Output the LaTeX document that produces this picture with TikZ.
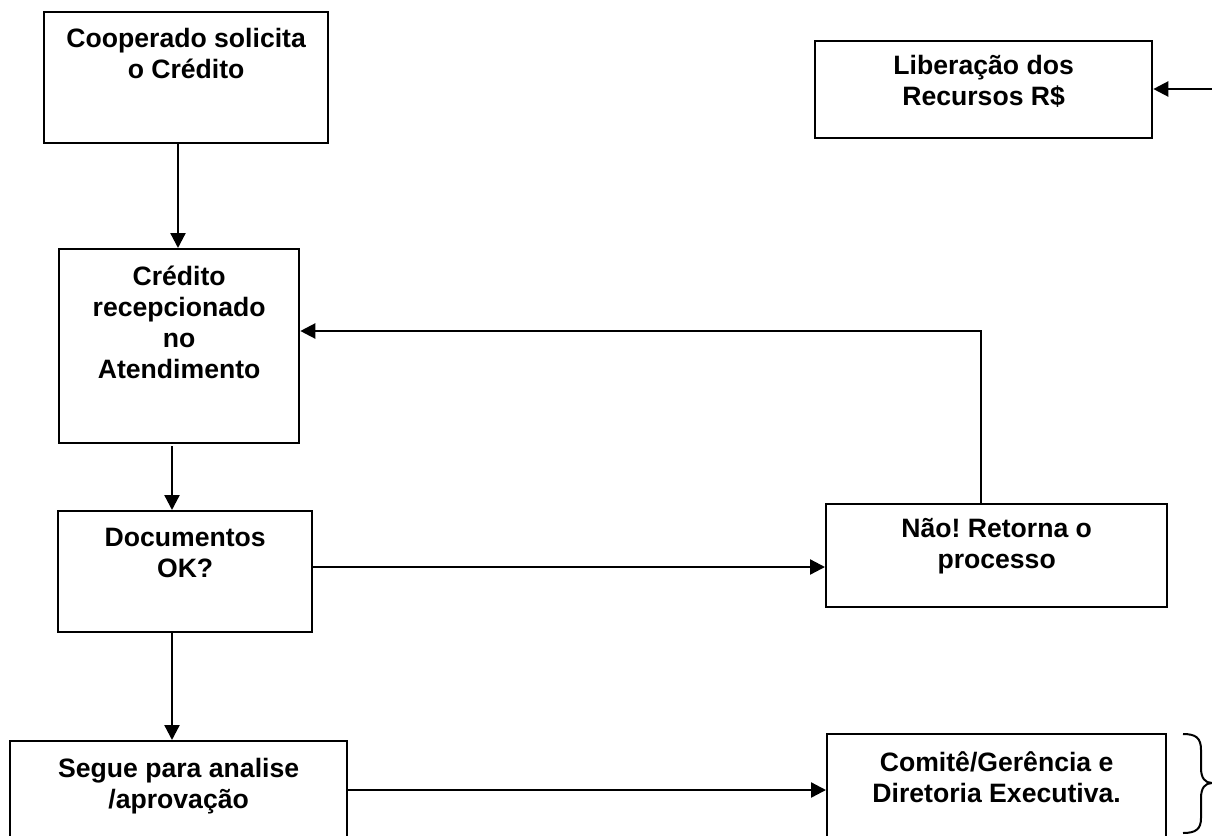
\documentclass[tikz,border=0pt]{standalone}
\usepackage{fontspec}
\setmainfont{Liberation Sans}
\usetikzlibrary{arrows.meta}
\frenchspacing
\begin{document}
\begin{tikzpicture}[x=1pt,y=-1pt,
  box/.style={draw, line width=2.3pt, rectangle, inner sep=0pt, anchor=north west},
  txt/.style={align=center, inner sep=0pt, anchor=north, font=\fontsize{26.6}{31}\selectfont\bfseries},
  arr/.style={line width=2.3pt, -{Triangle[length=15pt,width=15pt]}},
  ln/.style={line width=2.3pt}]
\path[use as bounding box, clip] (0,0) rectangle (1212,835);
\fill[white] (0,0) rectangle (1212,835);
% boxes
\node[box, minimum width=284pt, minimum height=131pt] (b1) at (43,11) {};
\node[box, minimum width=240pt, minimum height=194pt] (b2) at (58,248) {};
\node[box, minimum width=254pt, minimum height=121pt] (docs) at (57,510) {};
\node[box, minimum width=337pt, minimum height=130pt] (segue) at (9,740) {};
\node[box, minimum width=341pt, minimum height=103pt] (nao) at (825,503) {};
\node[box, minimum width=337pt, minimum height=97pt] (lib) at (814,40) {};
\node[box, minimum width=339pt, minimum height=130pt] (comite) at (826,733) {};
% texts
\node[txt] (t1) at ([yshift=-17pt]b1.north) {Cooperado solicita\\o Crédito};
\node[txt] (t2) at ([yshift=-18pt]b2.north) {Crédito\\recepcionado\\no\\Atendimento};
\node[txt] (t3) at ([yshift=-18pt]docs.north) {Documentos\\OK?};
\node[txt] (t4) at ([yshift=-18pt]segue.north) {Segue para analise\\/aprovação};
\node[txt] (t5) at ([yshift=-15.5pt]nao.north) {Não!\ Retorna o\\processo};
\node[txt] (t6) at ([yshift=-15pt]lib.north) {Liberação dos\\Recursos R\$};
\node[txt] (t7) at ([yshift=-18.5pt]comite.north) {Comitê/Gerência e\\Diretoria Executiva.};
% helper coordinates
\coordinate (c1) at (178,0);
\coordinate (c2) at (172,446);
\coordinate (c3) at (172,0);
\coordinate (cy1) at (0,567);
\coordinate (fb) at (981,331);
\coordinate (cy2) at (0,790);
\coordinate (rin) at (1212,89);
% connectors
\draw[arr] (b1.south -| c1) -- (b2.north -| c1);
\draw[arr] (c2) -- (docs.north -| c2);
\draw[arr] (docs.south -| c3) -- (segue.north -| c3);
\draw[arr] (docs.east |- cy1) -- (nao.west |- cy1);
\draw[arr] (nao.north -| fb) -- (fb) -- (b2.east |- fb);
\draw[arr] (segue.east |- cy2) -- (comite.west |- cy2);
\draw[arr] (rin) -- (lib.east |- rin);
% brace
\draw[line width=2pt] (1183,734) .. controls (1196,734) and (1201,738) .. (1201,750)
  -- (1201,768) .. controls (1201,778) and (1205,783) .. (1212,783)
  .. controls (1205,783) and (1201,788) .. (1201,798)
  -- (1201,818) .. controls (1201,829) and (1196,833) .. (1183,833);
\end{tikzpicture}
\end{document}
